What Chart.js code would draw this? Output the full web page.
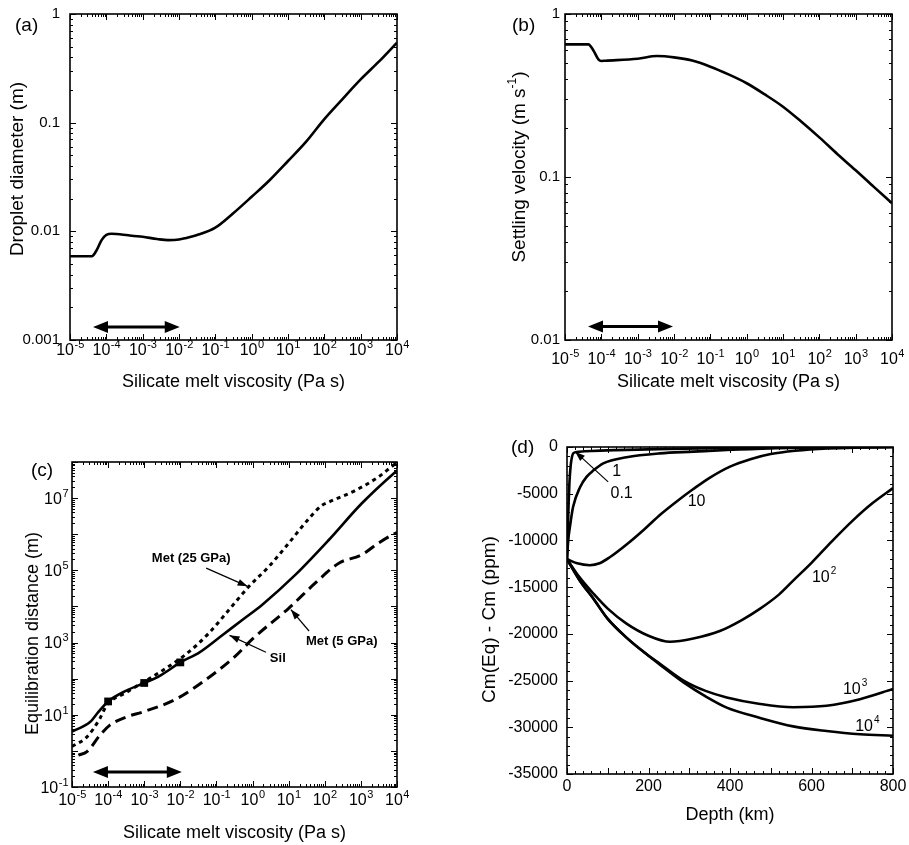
<!DOCTYPE html>
<html>
<head>
<meta charset="utf-8">
<script src="https://cdn.jsdelivr.net/npm/chart.js@4.4.1/dist/chart.umd.min.js"></script>
<style>
  body { margin: 0; background: #fff; width: 909px; height: 845px; position: relative; overflow: hidden; font-family: "Liberation Sans", Arial, sans-serif; }
  canvas { position: absolute; }
  .tag { position: absolute; font-size: 19px; line-height: 19px; color: #000; }
</style>
</head>
<body>
<canvas id="chartA" width="450" height="420" style="left:0;top:0"></canvas>
<canvas id="chartB" width="459" height="420" style="left:450px;top:0"></canvas>
<canvas id="chartC" width="450" height="425" style="left:0;top:420px"></canvas>
<canvas id="chartD" width="459" height="425" style="left:450px;top:420px"></canvas>
<div class="tag" style="left:15px;top:15px">(a)</div>
<div class="tag" style="left:512px;top:15px">(b)</div>
<div class="tag" style="left:31px;top:460px">(c)</div>
<div class="tag" style="left:511px;top:437px">(d)</div>
<script>
// (a) droplet diameter vs silicate melt viscosity
const viscA = [1e-5, 4e-5, 5.4e-5, 7.4e-5, 1e-4, 1.4e-4, 4e-4, 1e-3, 2.5e-3, 5e-3, 1e-2, 1.6e-2, 3e-2, 0.1, 0.3, 1, 3.16, 10, 31.6, 100, 316, 1000, 3160, 1e4];
const diamA = [0.0059, 0.0059, 0.0067, 0.0083, 0.0093, 0.0095, 0.0092, 0.0089, 0.0085, 0.0083, 0.0084, 0.0087, 0.0092, 0.0108, 0.0145, 0.0208, 0.0297, 0.0444, 0.067, 0.108, 0.165, 0.25, 0.364, 0.545];

// (b) settling velocity
const viscB = [1e-5, 4.4e-5, 6e-5, 8.3e-5, 1e-4, 1.3e-4, 1e-3, 3.4e-3, 1e-2, 3.16e-2, 0.1, 0.316, 1, 3.16, 10, 31.6, 100, 316, 1000, 3160, 1e4];
const velB = [0.651, 0.651, 0.6, 0.527, 0.515, 0.517, 0.532, 0.552, 0.542, 0.518, 0.475, 0.426, 0.376, 0.321, 0.27, 0.219, 0.175, 0.138, 0.11, 0.087, 0.069];

// (c) equilibration distance
const viscSil = [1e-5, 3.16e-5, 5.4e-5, 1e-4, 3.2e-4, 1e-3, 2.7e-3, 1e-2, 3.4e-2, 0.12, 0.54, 1.86, 15.5, 129, 1050, 8700, 1e4];
const distSil = [3.4, 6.3, 12, 23.4, 46.8, 76, 120, 282, 537, 1380, 4370, 11200, 75900, 692000, 7.08e6, 5.13e7, 5.75e7];
const viscMet25 = [1e-5, 2.6e-5, 5.9e-5, 9.1e-5, 3.2e-4, 1e-3, 2.7e-3, 1.45e-2, 6.3e-2, 0.224, 0.79, 2.8, 10, 36, 83, 129, 690, 3000, 8700, 1e4];
const distMet25 = [1.32, 2.45, 7.8, 18.2, 41.7, 83, 151, 479, 1860, 8130, 35500, 126000, 562000, 2.69e6, 6.3e6, 7.76e6, 1.62e7, 3.8e7, 8.7e7, 9.5e7];
const viscMet5 = [1.5e-5, 2.6e-5, 5.9e-5, 1.1e-4, 3.2e-4, 9.3e-4, 7.8e-3, 6.3e-2, 0.34, 1, 10, 55, 245, 1050, 3000, 8700, 1e4];
const distMet5 = [0.76, 0.95, 2.7, 5.1, 8.7, 12, 27.5, 110, 427, 1260, 8900, 44700, 158000, 269000, 562000, 1.05e6, 1.12e6];
const viscMarks = [1e-4, 1e-3, 1e-2];
const distMarks = [23.4, 76, 282];

// (d) Cm(Eq) - Cm vs depth, one curve per viscosity
const depth01 = [0, 2, 4, 6, 9, 12, 16, 30, 60, 120, 250, 400, 600, 800];
const cm01 = [-12000, -9000, -6000, -3800, -2000, -1100, -650, -500, -420, -330, -200, -100, -40, 0];
const depth1 = [0, 3, 7, 15, 32, 48, 65, 89, 146, 228, 310, 392, 500, 650, 800];
const cm1 = [-12000, -10000, -8600, -6400, -4300, -3200, -2500, -1750, -1100, -680, -500, -320, -150, -50, 0];
const depth10 = [0, 25, 56, 80, 105, 150, 190, 230, 270, 310, 350, 400, 450, 500, 560, 640, 720, 800];
const cm10 = [-12000, -12450, -12650, -12450, -11800, -10300, -8800, -7200, -5800, -4500, -3300, -2100, -1300, -750, -400, -150, -50, 0];
const depth100 = [0, 30, 65, 100, 146, 200, 253, 310, 375, 430, 474, 520, 555, 600, 650, 703, 750, 800];
const cm100 = [-12000, -13900, -15700, -17300, -18900, -20200, -20850, -20500, -19700, -18500, -17300, -15800, -14300, -12400, -10100, -7800, -6000, -4400];
const depth1000 = [0, 30, 65, 100, 146, 190, 228, 286, 340, 392, 474, 555, 637, 719, 800];
const cm1000 = [-12000, -14200, -16250, -18400, -20400, -22000, -23200, -25000, -26100, -26800, -27500, -27850, -27700, -27000, -25900];
const depth10000 = [0, 30, 65, 100, 146, 190, 228, 286, 340, 392, 474, 555, 637, 719, 800];
const cm10000 = [-12000, -14200, -16250, -18400, -20400, -22000, -23300, -25200, -26700, -27900, -29000, -29900, -30400, -30750, -30900];

// tick labels
const viscTicks = [1e-5, 1e-4, 1e-3, 1e-2, 1e-1, 1, 10, 100, 1000, 1e4];
const diamTicks = [0.001, 0.01, 0.1, 1];
const velTicks = [0.01, 0.1, 1];
const distTicks = [0.1, 10, 1e3, 1e5, 1e7];
const depthTicks = [0, 200, 400, 600, 800];
const cmTicks = [-35000, -30000, -25000, -20000, -15000, -10000, -5000, 0];

const FAM = '"Liberation Sans", Arial, Helvetica, sans-serif';
Chart.defaults.font.family = FAM;
Chart.defaults.color = '#000';
Chart.defaults.animation = false;
Chart.defaults.plugins.legend.display = false;
Chart.defaults.plugins.tooltip.enabled = false;

const plain = v => String(v);
const pts = (xs, ys) => xs.map((x, i) => ({x, y: ys[i]}));

// tick mark positions for the frame
function decades(lo, hi) {
  const out = [];
  for (let e = lo; e <= hi; e++) out.push(Math.pow(10, e));
  return out;
}
function logMinor(lo, hi) {
  const out = [];
  for (let e = lo; e < hi; e++) for (let k = 2; k <= 9; k++) out.push(k * Math.pow(10, e));
  return out;
}
function steps(a, b, s) {
  const out = [];
  for (let v = a; v <= b + 1e-9; v += s) out.push(v);
  return out;
}

// power-of-ten axes draw their labels in the powLabels plugin
function axis(o) {
  return {
    type: o.type, min: o.min, max: o.max,
    grid: {display: false, drawTicks: false},
    border: {display: false},
    afterBuildTicks: s => { s.ticks = o.ticks.map(v => ({value: v})); },
    afterFit: s => {
      if (o.horizontal) { s.height = o.box; s.paddingLeft = 0; s.paddingRight = 0; }
      else { s.width = o.box; s.paddingTop = 0; s.paddingBottom = 0; }
    },
    ticks: {display: !o.pow, autoSkip: false, maxRotation: 0, minRotation: 0, padding: o.pad || 0,
      font: {size: o.size}, callback: v => plain(v)},
    title: o.title ? {display: true, text: o.title, font: {size: o.titleSize}, padding: {top: 0, bottom: o.titlePad}}
                   : {display: false}
  };
}

const framePlugin = {
  id: 'frame',
  afterDatasetsDraw(chart, args, opts) {
    if (!opts || !opts.xMajor) return;
    const {ctx, chartArea: a, scales} = chart;
    ctx.save();
    ctx.strokeStyle = '#000';
    ctx.lineWidth = 1;
    const mark = (id, values, len) => {
      const s = scales[id];
      values.forEach(v => {
        const p = Math.round(s.getPixelForValue(v)) + 0.5;
        ctx.beginPath();
        if (id === 'x') {
          ctx.moveTo(p, a.bottom); ctx.lineTo(p, a.bottom - len);
          ctx.moveTo(p, a.top); ctx.lineTo(p, a.top + len);
        } else {
          ctx.moveTo(a.left, p); ctx.lineTo(a.left + len, p);
          ctx.moveTo(a.right, p); ctx.lineTo(a.right - len, p);
        }
        ctx.stroke();
      });
    };
    mark('x', opts.xMajor, 6); mark('x', opts.xMinor, 3);
    mark('y', opts.yMajor, 6); mark('y', opts.yMinor, 3);
    ctx.lineWidth = 1.6;
    ctx.strokeRect(a.left, a.top, a.right - a.left, a.bottom - a.top);
    ctx.restore();
  }
};

// "10" with a raised exponent, for log axes
const powPlugin = {
  id: 'powLabels',
  afterDraw(chart, args, opts) {
    if (!opts || !opts.axes) return;
    const {ctx, chartArea: a, scales} = chart;
    ctx.save();
    ctx.fillStyle = '#000';
    ctx.textBaseline = 'alphabetic';
    ctx.textAlign = 'left';
    opts.axes.forEach(ax => {
      const s = scales[ax.id];
      ax.values.forEach(v => {
        const exp = String(Math.round(Math.log10(v)));
        const p = s.getPixelForValue(v);
        ctx.font = ax.size + 'px ' + FAM;
        const wb = ctx.measureText('10').width;
        ctx.font = ax.supSize + 'px ' + FAM;
        const we = ctx.measureText(exp).width;
        let x0, yb;
        if (ax.id === 'x') { x0 = p - (wb + we) / 2; yb = a.bottom + ax.pad; }
        else { x0 = a.left - ax.pad - wb - we; yb = p + ax.size * 0.36; }
        ctx.font = ax.size + 'px ' + FAM;
        ctx.fillText('10', x0, yb);
        ctx.font = ax.supSize + 'px ' + FAM;
        ctx.fillText(exp, x0 + wb + 0.5, yb - ax.size * 0.43);
      });
    });
    ctx.restore();
  }
};

// rotated y-axis title, parts may be superscripts
const yTitlePlugin = {
  id: 'yTitle',
  afterDraw(chart, args, opts) {
    if (!opts || !opts.parts) return;
    const {ctx, chartArea: a} = chart;
    const size = opts.size, supSize = Math.round(size * 0.65);
    ctx.save();
    ctx.fillStyle = '#000';
    ctx.translate(opts.x, (a.top + a.bottom) / 2 + opts.shift);
    ctx.rotate(-Math.PI / 2);
    ctx.textBaseline = 'middle';
    ctx.textAlign = 'left';
    const widths = opts.parts.map(p => {
      ctx.font = (p.sup ? supSize : size) + 'px ' + FAM;
      return ctx.measureText(p.t).width;
    });
    let cx = -widths.reduce((s, w) => s + w, 0) / 2;
    opts.parts.forEach((p, i) => {
      ctx.font = (p.sup ? supSize : size) + 'px ' + FAM;
      ctx.fillText(p.t, cx, p.sup ? -size * 0.38 : 0);
      cx += widths[i];
    });
    ctx.restore();
  }
};

function arrowHead(ctx, x0, y0, x1, y1, len, half) {
  const ang = Math.atan2(y1 - y0, x1 - x0);
  ctx.beginPath();
  ctx.moveTo(x1, y1);
  ctx.lineTo(x1 - len * Math.cos(ang) + half * Math.sin(ang), y1 - len * Math.sin(ang) - half * Math.cos(ang));
  ctx.lineTo(x1 - len * Math.cos(ang) - half * Math.sin(ang), y1 - len * Math.sin(ang) + half * Math.cos(ang));
  ctx.closePath();
  ctx.fill();
}

const notesPlugin = {
  id: 'notes',
  afterDatasetsDraw(chart, args, opts) {
    if (!opts || !opts.items) return;
    const {ctx, scales: {x, y}} = chart;
    ctx.save();
    ctx.fillStyle = '#000';
    ctx.strokeStyle = '#000';
    opts.items.forEach(it => {
      if (it.kind === 'span') {
        const x1 = x.getPixelForValue(it.x1), x2 = x.getPixelForValue(it.x2), py = y.getPixelForValue(it.y);
        ctx.lineWidth = 3;
        ctx.beginPath(); ctx.moveTo(x1 + 10, py); ctx.lineTo(x2 - 10, py); ctx.stroke();
        arrowHead(ctx, x2, py, x1, py, 15, 6);
        arrowHead(ctx, x1, py, x2, py, 15, 6);
      } else if (it.kind === 'arrow') {
        const x0 = x.getPixelForValue(it.from[0]), y0 = y.getPixelForValue(it.from[1]);
        const x1 = x.getPixelForValue(it.to[0]), y1 = y.getPixelForValue(it.to[1]);
        ctx.lineWidth = 1.2;
        ctx.beginPath(); ctx.moveTo(x0, y0); ctx.lineTo(x1, y1); ctx.stroke();
        arrowHead(ctx, x0, y0, x1, y1, 10, 3.5);
      } else if (it.kind === 'text') {
        const px = x.getPixelForValue(it.x), py = y.getPixelForValue(it.y);
        ctx.font = (it.bold ? 'bold ' : '') + it.size + 'px ' + FAM;
        ctx.textBaseline = 'middle';
        ctx.textAlign = 'center';
        ctx.fillText(it.text, px, py);
        if (it.sup) {
          const w = ctx.measureText(it.text).width;
          ctx.font = Math.round(it.size * 0.65) + 'px ' + FAM;
          ctx.textAlign = 'left';
          ctx.fillText(it.sup, px + w / 2 + 1, py - it.size * 0.42);
        }
      }
    });
    ctx.restore();
  }
};

Chart.register(framePlugin, powPlugin, yTitlePlugin, notesPlugin);

function lineSet(data, extra) {
  return Object.assign({
    data, borderColor: '#000', borderWidth: 2.6, pointRadius: 0,
    cubicInterpolationMode: 'monotone', fill: false
  }, extra || {});
}

// panel (a)
new Chart(document.getElementById('chartA'), {
  type: 'line',
  data: {datasets: [lineSet(pts(viscA, diamA))]},
  options: {
    responsive: false,
    layout: {padding: {left: 0, top: 14, right: 53, bottom: 0}},
    scales: {
      x: axis({type: 'logarithmic', min: 1e-5, max: 1e4, ticks: viscTicks, pow: true,
        horizontal: true, box: 80, title: 'Silicate melt viscosity (Pa s)', titleSize: 18, titlePad: 27}),
      y: axis({type: 'logarithmic', min: 0.001, max: 1, ticks: diamTicks, size: 15, pad: 10, box: 70})
    },
    plugins: {
      frame: {xMajor: decades(-5, 4), xMinor: logMinor(-5, 4), yMajor: decades(-3, 0), yMinor: logMinor(-3, 0)},
      powLabels: {axes: [{id: 'x', values: viscTicks, size: 16, supSize: 11, pad: 15}]},
      yTitle: {parts: [{t: 'Droplet diameter (m)'}], size: 19, x: 18, shift: -8},
      notes: {items: [{kind: 'span', x1: 4.3e-5, x2: 1.05e-2, y: 0.00132}]}
    }
  }
});

// panel (b)
new Chart(document.getElementById('chartB'), {
  type: 'line',
  data: {datasets: [lineSet(pts(viscB, velB))]},
  options: {
    responsive: false,
    layout: {padding: {left: 0, top: 14, right: 17, bottom: 0}},
    scales: {
      x: axis({type: 'logarithmic', min: 1e-5, max: 1e4, ticks: viscTicks, pow: true,
        horizontal: true, box: 80, title: 'Silicate melt viscosity (Pa s)', titleSize: 18, titlePad: 27}),
      y: axis({type: 'logarithmic', min: 0.01, max: 1, ticks: velTicks, size: 15, pad: 5, box: 115})
    },
    plugins: {
      frame: {xMajor: decades(-5, 4), xMinor: logMinor(-5, 4), yMajor: decades(-2, 0), yMinor: logMinor(-2, 0)},
      powLabels: {axes: [{id: 'x', values: viscTicks, size: 16, supSize: 11, pad: 24}]},
      yTitle: {parts: [{t: 'Settling velocity (m s'}, {t: '-1', sup: true}, {t: ')'}], size: 19, x: 70, shift: -10},
      notes: {items: [{kind: 'span', x1: 4.3e-5, x2: 9.4e-3, y: 0.0121}]}
    }
  }
});

// panel (c)
new Chart(document.getElementById('chartC'), {
  type: 'line',
  data: {datasets: [
    lineSet(pts(viscSil, distSil)),
    lineSet(pts(viscMet25, distMet25), {borderWidth: 3, borderDash: [4, 4]}),
    lineSet(pts(viscMet5, distMet5), {borderWidth: 3, borderDash: [11, 6]}),
    {data: pts(viscMarks, distMarks), showLine: false, pointStyle: 'rect', pointRadius: 5.5,
      backgroundColor: '#000', borderColor: '#000', borderWidth: 0}
  ]},
  options: {
    responsive: false,
    layout: {padding: {left: 0, top: 42, right: 53, bottom: 0}},
    scales: {
      x: axis({type: 'logarithmic', min: 1e-5, max: 1e4, ticks: viscTicks, pow: true,
        horizontal: true, box: 58, title: 'Silicate melt viscosity (Pa s)', titleSize: 18, titlePad: 1}),
      y: axis({type: 'logarithmic', min: 0.1, max: 1e8, ticks: distTicks, pow: true, box: 72})
    },
    plugins: {
      frame: {xMajor: decades(-5, 4), xMinor: logMinor(-5, 4), yMajor: decades(-1, 8), yMinor: logMinor(-1, 8)},
      powLabels: {axes: [
        {id: 'x', values: viscTicks, size: 16, supSize: 11, pad: 18},
        {id: 'y', values: distTicks, size: 16, supSize: 11, pad: 4}
      ]},
      yTitle: {parts: [{t: 'Equilibration distance (m)'}], size: 18, x: 33, shift: 9},
      notes: {items: [
        {kind: 'span', x1: 3.8e-5, x2: 1.1e-2, y: 0.26},
        {kind: 'text', x: 0.02, y: 2.2e5, text: 'Met (25 GPa)', size: 13, bold: true},
        {kind: 'arrow', from: [0.052, 1.15e5], to: [0.73, 3.6e4]},
        {kind: 'text', x: 5.0, y: 363, text: 'Sil', size: 13, bold: true},
        {kind: 'arrow', from: [2.35, 537], to: [0.23, 1585]},
        {kind: 'text', x: 295, y: 1100, text: 'Met (5 GPa)', size: 13, bold: true},
        {kind: 'arrow', from: [36.7, 2090], to: [11.5, 8200]}
      ]}
    }
  }
});

// panel (d)
new Chart(document.getElementById('chartD'), {
  type: 'line',
  data: {datasets: [
    lineSet(pts(depth01, cm01)),
    lineSet(pts(depth1, cm1)),
    lineSet(pts(depth10, cm10)),
    lineSet(pts(depth100, cm100)),
    lineSet(pts(depth1000, cm1000)),
    lineSet(pts(depth10000, cm10000))
  ]},
  options: {
    responsive: false,
    layout: {padding: {left: 0, top: 27, right: 16, bottom: 0}},
    scales: {
      x: axis({type: 'linear', min: 0, max: 800, ticks: depthTicks, size: 16, pad: 3,
        horizontal: true, box: 71, title: 'Depth (km)', titleSize: 18, titlePad: 19}),
      y: axis({type: 'linear', min: -35000, max: 0, ticks: cmTicks, size: 16, pad: 9, box: 117})
    },
    plugins: {
      frame: {xMajor: steps(0, 800, 100), xMinor: steps(0, 800, 20), yMajor: steps(-35000, 0, 5000), yMinor: steps(-35000, 0, 1000)},
      yTitle: {parts: [{t: 'Cm(Eq) - Cm (ppm)'}], size: 19, x: 40, shift: 9},
      notes: {items: [
        {kind: 'text', x: 122, y: -2650, text: '1', size: 16},
        {kind: 'text', x: 134, y: -4970, text: '0.1', size: 16},
        {kind: 'arrow', from: [101, -3730], to: [20, -500]},
        {kind: 'text', x: 318, y: -5870, text: '10', size: 16},
        {kind: 'text', x: 623, y: -14000, text: '10', sup: '2', size: 16},
        {kind: 'text', x: 699, y: -25980, text: '10', sup: '3', size: 16},
        {kind: 'text', x: 729, y: -29930, text: '10', sup: '4', size: 16}
      ]}
    }
  }
});
</script>
</body>
</html>
